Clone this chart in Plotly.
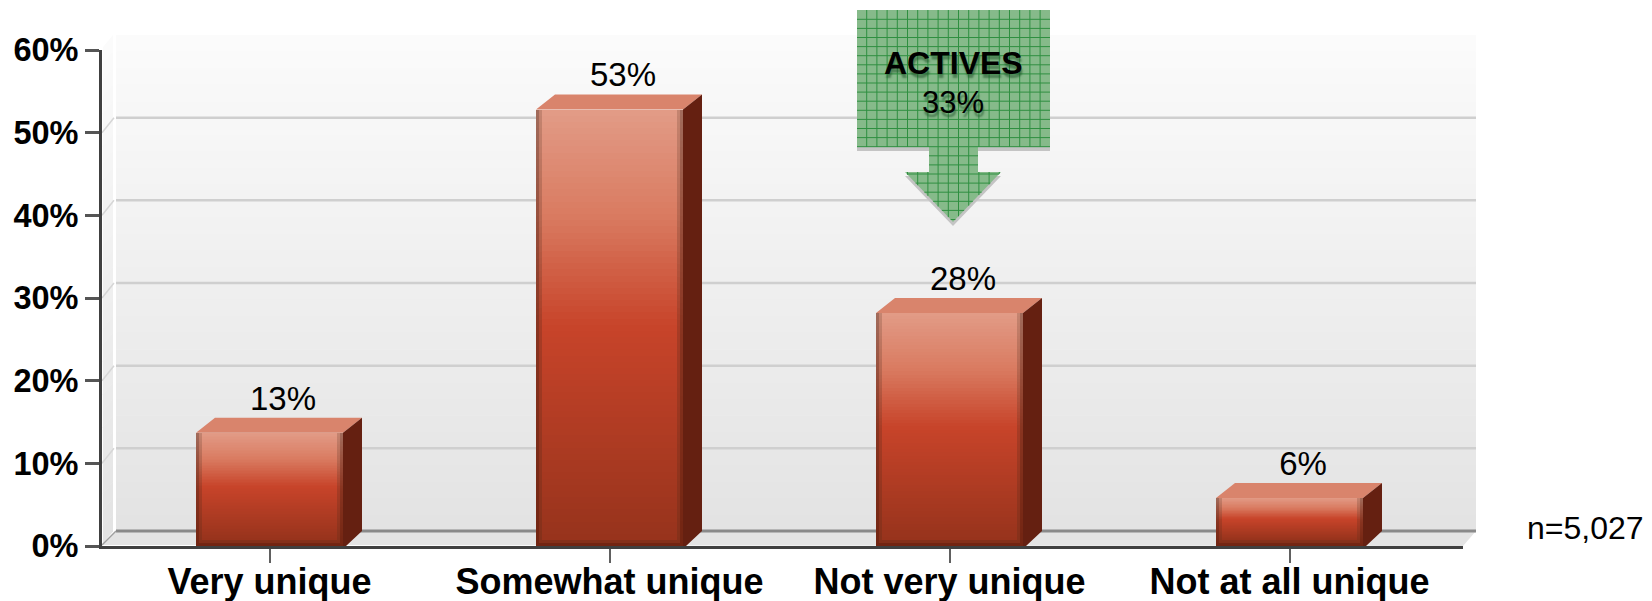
import plotly.graph_objects as go

# ---- data ----
categories = ["Very unique", "Somewhat unique", "Not very unique", "Not at all unique"]
bar_values = [13.7, 52.8, 28.2, 5.8]
value_labels = ["13%", "53%", "28%", "6%"]
y_ticks = [0, 10, 20, 30, 40, 50, 60]
y_tick_labels = ["0%", "10%", "20%", "30%", "40%", "50%", "60%"]
callout_title = "ACTIVES"
callout_value = "33%"
sample_note = "n=5,027"

# ---- layout constants (pixels) ----
W, H = 1652, 601
L, R, T, B = 102, 1463, 50, 546
DX, DY = 19, 15          # 3D depth offset
BAR_PX = 147
xunit = 340.0
yunit = (B - T) / 60.0
DXD, DYD = DX / xunit, DY / yunit
BAR_W = BAR_PX / xunit
X_LEFT = -(269.5 - L) / xunit
X_RIGHT = X_LEFT + (R - L) / xunit


def px(x):
    return (x - L) / (R - L)


def py(y):
    return (B - y) / (B - T)


def poly(points):
    return "M" + " L".join(f"{px(x):.5f},{py(y):.5f}" for x, y in points) + " Z"


def hex2rgb(h):
    return tuple(int(h[i:i + 2], 16) for i in (1, 3, 5))


def ramp(f, stops):
    for (f0, c0), (f1, c1) in zip(stops, stops[1:]):
        if f <= f1:
            t = (f - f0) / (f1 - f0)
            a, b = hex2rgb(c0), hex2rgb(c1)
            return "#%02x%02x%02x" % tuple(round(a[i] + (b[i] - a[i]) * t) for i in range(3))
    return stops[-1][1]


shapes = []


def add_poly(points, fill, layer="below"):
    shapes.append(dict(type="path", path=poly(points), xref="paper", yref="paper",
                       fillcolor=fill, line=dict(width=0), layer=layer))


def add_line(x0, y0, x1, y1, color, width, layer="below"):
    shapes.append(dict(type="line", xref="paper", yref="paper", x0=px(x0), y0=py(y0),
                       x1=px(x1), y1=py(y1), line=dict(color=color, width=width), layer=layer))


# ---- back wall, side wall, floor ----
wall_stops = [(0, "#fbfbfb"), (1, "#e3e3e3")]
WX = 116
wall_top, wall_bot = T - 15, B - 15
for i in range(30):
    a = wall_top + (wall_bot - wall_top) * i / 30
    b = wall_top + (wall_bot - wall_top) * (i + 1) / 30
    c = ramp((i + 0.5) / 30, wall_stops)
    add_poly([(WX, a), (R + 13, a), (R + 13, b + 0.5), (WX, b + 0.5)], c)
    add_poly([(L + 1, a + 12), (WX - 3, a), (WX - 3, b + 0.5), (L + 1, b + 12.5)], c)
add_poly([(L, B - 1), (WX, B - 15), (R + 13, B - 15), (R, B)], "#e4e4e4")
add_line(WX - 1.5, T - 15, WX - 1.5, B - 15, "#ffffff", 3)
for t in y_ticks[1:-1]:
    yy = B - t * yunit
    add_line(L, yy, WX - 2, yy - 15, "#d6d6d6", 1.5)
    add_line(WX, yy - 15, R + 13, yy - 15, "#cfcfcf", 2.5)
add_line(WX, B - 15, R + 13, B - 15, "#8a8a8a", 3)
add_line(L, B - 1, WX, B - 15, "#a0a0a0", 1.5)

# ---- bars: stacked colour bands so the vertical gradient comes through the axes ----
fig = go.Figure()
xs = list(range(len(categories)))
N = 70
main_stops = [(0, "#e29c87"), (0.25, "#d97a60"), (0.5, "#c8442a"), (1, "#97331c")]
mid_stops = [(0, "#c48571"), (0.25, "#b86750"), (0.5, "#a93c25"), (1, "#84301a")]
edge_stops = [(0, "#a26c5c"), (0.25, "#984f3c"), (0.5, "#893420"), (1, "#722512")]
levels = [(BAR_W, 0.0, edge_stops), (BAR_W - 6 / xunit, 3 / yunit, mid_stops),
          (BAR_W - 12 / xunit, 6 / yunit, main_stops)]
for width, inset, stops in levels:
    for k in range(N):
        f0, f1 = k / N, (k + 1) / N
        fig.add_trace(go.Bar(
            x=xs,
            base=[inset + (v - inset) * (1 - f1) for v in bar_values],
            y=[(v - inset) * (f1 - f0) for v in bar_values],
            width=width,
            marker=dict(color=ramp((f0 + f1) / 2, stops), line=dict(width=0)),
            hoverinfo="skip", showlegend=False))

# top and side faces of the boxes
top_x, top_y, side_x, side_y = [], [], [], []
for i, v in zip(xs, bar_values):
    l, r = i - BAR_W / 2, i + BAR_W / 2
    top_x += [l, l + DXD, r + DXD, r, l, None]
    top_y += [v, v + DYD, v + DYD, v, v, None]
    side_x += [r, r + DXD, r + DXD, r + 3 / xunit, r, r, None]
    side_y += [v, v + DYD, DYD, 0, 0, v, None]
fig.add_trace(go.Scatter(x=top_x, y=top_y, mode="lines", fill="toself", fillcolor="#d9846c",
                         line=dict(width=0), hoverinfo="skip", showlegend=False))
fig.add_trace(go.Scatter(x=side_x, y=side_y, mode="lines", fill="toself", fillcolor="#652011",
                         line=dict(width=0), hoverinfo="skip", showlegend=False))

# value labels
fig.add_trace(go.Scatter(
    x=[i + DXD / 2 + 4 / xunit for i in xs], y=[v + DYD for v in bar_values], mode="text",
    text=value_labels, textposition="top center",
    textfont=dict(family="Liberation Sans", size=33, color="#000000"),
    hoverinfo="skip", showlegend=False, cliponaxis=False))

# ---- callout arrow ----
arrow = [(857, 10), (1050, 10), (1050, 147), (978, 147), (978, 172), (1001, 172),
         (953, 222), (905, 172), (929, 172), (929, 147), (857, 147)]
add_poly([(x, y + 4) for x, y in arrow], "#c4c4c4", "above")
add_poly(arrow, "#86ba8a", "above")


def x_span(y):
    if y <= 147:
        return 857, 1050
    if y <= 172:
        return 929, 978
    half = 48 * (222 - y) / 50
    return 953 - half, 953 + half


grid_green = "#2f8f40"
gx = 866.7
while gx < 1050:
    if 929 <= gx <= 978:
        add_line(gx, 10, gx, 222 - abs(gx - 953) * 50 / 48, grid_green, 1, "above")
    else:
        add_line(gx, 10, gx, 147, grid_green, 1, "above")
        if 905 < gx < 1001:
            add_line(gx, 172, gx, 222 - abs(gx - 953) * 50 / 48, grid_green, 1, "above")
    gx += 10.2
gy = 19.3
while gy < 222:
    a, b = x_span(gy)
    add_line(a, gy, b, gy, grid_green, 1, "above")
    gy += 9.1

annotations = []


def add_text(text, x, y, size, bold=False, shadow="none"):
    annotations.append(dict(
        text=f"<b>{text}</b>" if bold else text, x=px(x), y=py(y), xref="paper", yref="paper",
        showarrow=False, xanchor="center", yanchor="middle",
        font=dict(family="Liberation Sans", size=size, color="#000000", shadow=shadow)))


callout_shadow = "1px 4px 2px rgba(30,80,40,0.55)"
add_text(callout_title, 953, 63, 32, True, callout_shadow)
add_text(callout_value, 953, 103, 31, False, callout_shadow)
add_text(sample_note, 1585, 528, 32)

fig.update_layout(
    width=W, height=H, autosize=False,
    margin=dict(l=L, r=W - R, t=T, b=H - B, pad=0, autoexpand=False),
    paper_bgcolor="#ffffff", plot_bgcolor="rgba(0,0,0,0)",
    barmode="overlay", bargap=0, showlegend=False,
    shapes=shapes, annotations=annotations,
    xaxis=dict(range=[X_LEFT, X_RIGHT], tickmode="array", tickvals=xs, ticktext=categories,
               automargin=False,
               showgrid=False, zeroline=False, showline=True, linecolor="#404040", linewidth=3,
               ticks="outside", ticklen=14, tickwidth=2, tickcolor="#606060",
               tickfont=dict(family="Liberation Sans", size=36, color="#000000", weight="bold"),
               ticklabelstandoff=-12, fixedrange=True),
    yaxis=dict(range=[0, 60], tickmode="array", tickvals=y_ticks, ticktext=y_tick_labels,
               automargin=False,
               showgrid=False, zeroline=False, showline=True, linecolor="#404040", linewidth=3,
               ticks="outside", ticklen=14, tickwidth=3, tickcolor="#555555",
               tickfont=dict(family="Liberation Sans", size=32.5, color="#000000", weight="bold"),
               ticklabelstandoff=0, fixedrange=True),
)

fig.write_html("out.html", config=dict(displayModeBar=False),
               post_script="document.body.style.margin='0';")
